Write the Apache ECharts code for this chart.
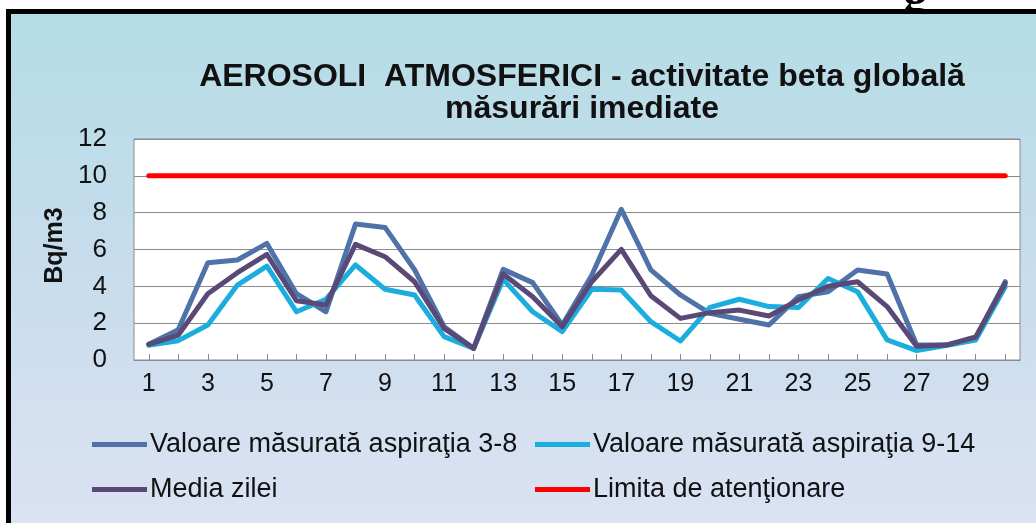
<!DOCTYPE html>
<html>
<head>
<meta charset="utf-8">
<script src="https://cdn.jsdelivr.net/npm/echarts@6/dist/echarts.min.js"></script>
<style>
  html, body { margin: 0; padding: 0; background: #ffffff; }
  #wrap { position: relative; width: 1036px; height: 523px; overflow: hidden; background: #ffffff; }
  #frame { position: absolute; left: 6px; top: 9px; right: -20px; bottom: -20px;
           border-left: 5px solid #000; border-top: 5px solid #000;
           background: linear-gradient(to bottom, #b5dde6 0%, #c6dcec 45%, #dde3f3 100%); }
  #corner { position: absolute; left: 903px; top: -34px; font: bold 50px "Liberation Serif", "DejaVu Serif", serif; color: #000; }
  #chart { position: absolute; left: 0; top: 0; width: 1036px; height: 523px; }
</style>
</head>
<body>
<div id="wrap">
  <div id="corner">g</div>
  <div id="frame"></div>
  <div id="chart"></div>
</div>
<script>
const categories = ['1','2','3','4','5','6','7','8','9','10','11','12','13','14','15','16','17','18','19','20','21','22','23','24','25','26','27','28','29','30'];
const aspiratie38 = [0.85,1.65,5.28,5.43,6.33,3.6,2.62,7.38,7.2,4.9,1.81,0.63,4.92,4.2,1.9,4.6,8.18,4.89,3.53,2.53,2.21,1.9,3.44,3.71,4.89,4.67,0.81,0.81,1.18,4.25];
const aspiratie914 = [0.8,1.05,1.9,4.07,5.1,2.62,3.3,5.16,3.84,3.53,1.27,0.63,4.38,2.62,1.54,3.84,3.8,2.08,1.03,2.86,3.3,2.9,2.85,4.43,3.71,1.09,0.51,0.78,1.09,3.98];
const mediaZilei = [0.85,1.35,3.6,4.74,5.73,3.22,2.99,6.28,5.61,4.25,1.72,0.63,4.67,3.44,1.81,4.25,6.01,3.49,2.26,2.57,2.71,2.39,3.26,4.0,4.25,2.9,0.75,0.81,1.25,4.16];
const limita = [10,10,10,10,10,10,10,10,10,10,10,10,10,10,10,10,10,10,10,10,10,10,10,10,10,10,10,10,10,10];
const seriesNames = ['Valoare măsurată aspiraţia 3-8','Valoare măsurată aspiraţia 9-14','Media zilei','Limita de atenţionare'];
const colors = ['#4f73a8','#1badde','#5a4877','#ff0000'];

const FONT = '"Liberation Sans", Arial, sans-serif';
const chart = echarts.init(document.getElementById('chart'), null, {renderer: 'canvas'});

function legendAt(name, left, centerY) {
  return {
    data: [name], left: left, top: centerY - 16, orient: 'horizontal',
    icon: 'rect', itemWidth: 55, itemHeight: 5, itemGap: 0, padding: 0,
    textStyle: { fontFamily: FONT, fontSize: 27, color: '#111', padding: [0,0,0,-2] }
  };
}

function mkLine(i, data) {
  return {
    name: seriesNames[i], type: 'line', data: data, symbol: 'none',
    lineStyle: { width: 5, color: colors[i], join: 'round', cap: 'round' },
    itemStyle: { color: colors[i] },
    animation: false, z: 2 + i
  };
}

chart.setOption({
  backgroundColor: 'transparent',
  animation: false,
  title: {
    text: 'AEROSOLI  ATMOSFERICI - activitate beta globală\nmăsurări imediate',
    left: 577, top: 56, textAlign: 'center',
    textStyle: { fontFamily: FONT, fontSize: 32, fontWeight: 'bold', color: '#111', lineHeight: 32 }
  },
  legend: [
    legendAt(seriesNames[0], 92, 447),
    legendAt(seriesNames[2], 92, 492),
    legendAt(seriesNames[1], 535, 447),
    legendAt(seriesNames[3], 535, 492)
  ],
  grid: { left: 134, right: 16, top: 139, bottom: 163, show: true, backgroundColor: '#ffffff', borderColor: '#8a8a8a', borderWidth: 1 },
  xAxis: {
    type: 'category', data: categories, boundaryGap: true,
    axisLine: { lineStyle: { color: '#8a8a8a', width: 1 } },
    axisTick: { show: true, alignWithLabel: true, interval: 0, inside: true, length: 6, lineStyle: { color: '#8a8a8a' } },
    axisLabel: { interval: 1, fontFamily: FONT, fontSize: 25, color: '#111', margin: 12 },
    splitLine: { show: false }
  },
  yAxis: {
    type: 'value', min: 0, max: 12, interval: 2,
    name: 'Bq/m3', nameLocation: 'middle', nameRotate: 90, nameGap: 63,
    nameTextStyle: { fontFamily: FONT, fontSize: 25, fontWeight: 'bold', color: '#111', padding: [0, 0, 0, 8] },
    axisLine: { show: false }, axisTick: { show: false },
    axisLabel: { fontFamily: FONT, fontSize: 26, color: '#111', margin: 27 },
    splitLine: { lineStyle: { color: '#8a8a8a', width: 1 } }
  },
  series: [
    mkLine(0, aspiratie38),
    mkLine(1, aspiratie914),
    mkLine(2, mediaZilei),
    mkLine(3, limita)
  ]
});
</script>
</body>
</html>
